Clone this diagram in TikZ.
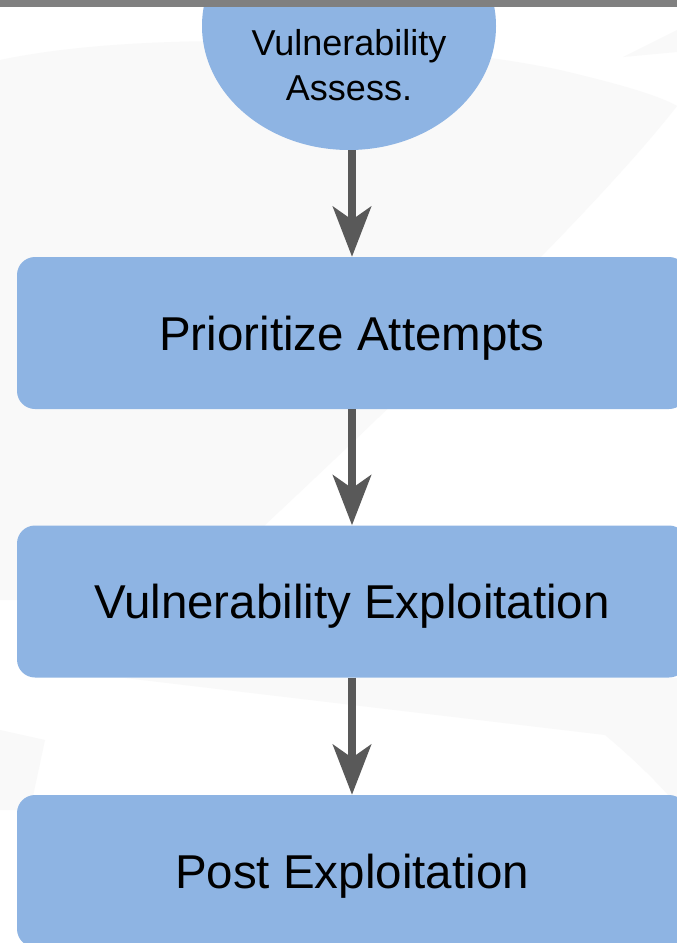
\documentclass[tikz,border=0pt]{standalone}
\usepackage{fontspec}
\setmainfont{Liberation Sans}
\usetikzlibrary{arrows.meta,shapes.geometric}

\definecolor{boxblue}{HTML}{8EB4E3}
\definecolor{arrowgray}{HTML}{595959}
\definecolor{bargray}{HTML}{808080}
\definecolor{swoosh}{HTML}{F9F9F9}

\tikzset{
  stagebox/.style={draw=none, fill=boxblue, rounded corners=18pt,
    minimum width=670pt, minimum height=152pt, inner sep=0pt,
    text depth=0pt, font=\fontsize{47.5}{57}\selectfont, text=black},
  flowarrow/.style={draw=arrowgray, line width=8pt,
    -{Stealth[length=50pt, width=38pt, inset=13pt, fill=arrowgray]}},
}

\begin{document}
\begin{tikzpicture}[x=1pt, y=-1pt]
  \useasboundingbox (0,0) rectangle (677,943);
  \fill[white] (0,0) rectangle (677,943);

  % faint background watermark
  \fill[swoosh] (0,60) .. controls (150,28) and (420,40) .. (560,70)
                .. controls (620,84) and (660,96) .. (677,106)
                .. controls (600,205) and (420,380) .. (265,525)
                -- (200,600) -- (0,600) -- cycle;
  \fill[swoosh] (623,57) -- (677,30) -- (677,52) -- cycle;
  \fill[swoosh] (125,678) -- (605,735) .. controls (635,760) and (660,785) .. (677,805)
                -- (677,678) -- cycle;
  \fill[swoosh] (0,730) -- (45,740) -- (30,810) -- (0,810) -- cycle;

  % flow stages
  \node[ellipse, fill=boxblue, inner sep=0pt, minimum width=294pt,
        minimum height=248pt] (va) at (349,26) {};
  \node[align=center, font=\fontsize{36}{45}\selectfont, text=black]
        (valabel) at (349,65) {Vulnerability\\Assess.};

  \node[stagebox] (prio) at (352,333)   {Prioritize Attempts};
  \node[stagebox] (expl) at (352,601.5) {Vulnerability Exploitation};
  \node[stagebox] (post) at (352,871)   {Post Exploitation};

  % connectors
  \draw[flowarrow] (va.south -| prio.north) -- (prio.north);
  \draw[flowarrow] (prio.south) -- (expl.north);
  \draw[flowarrow] (expl.south) -- (post.north);

  % top bar
  \fill[bargray] (0,0) rectangle (677,7);
\end{tikzpicture}
\end{document}
